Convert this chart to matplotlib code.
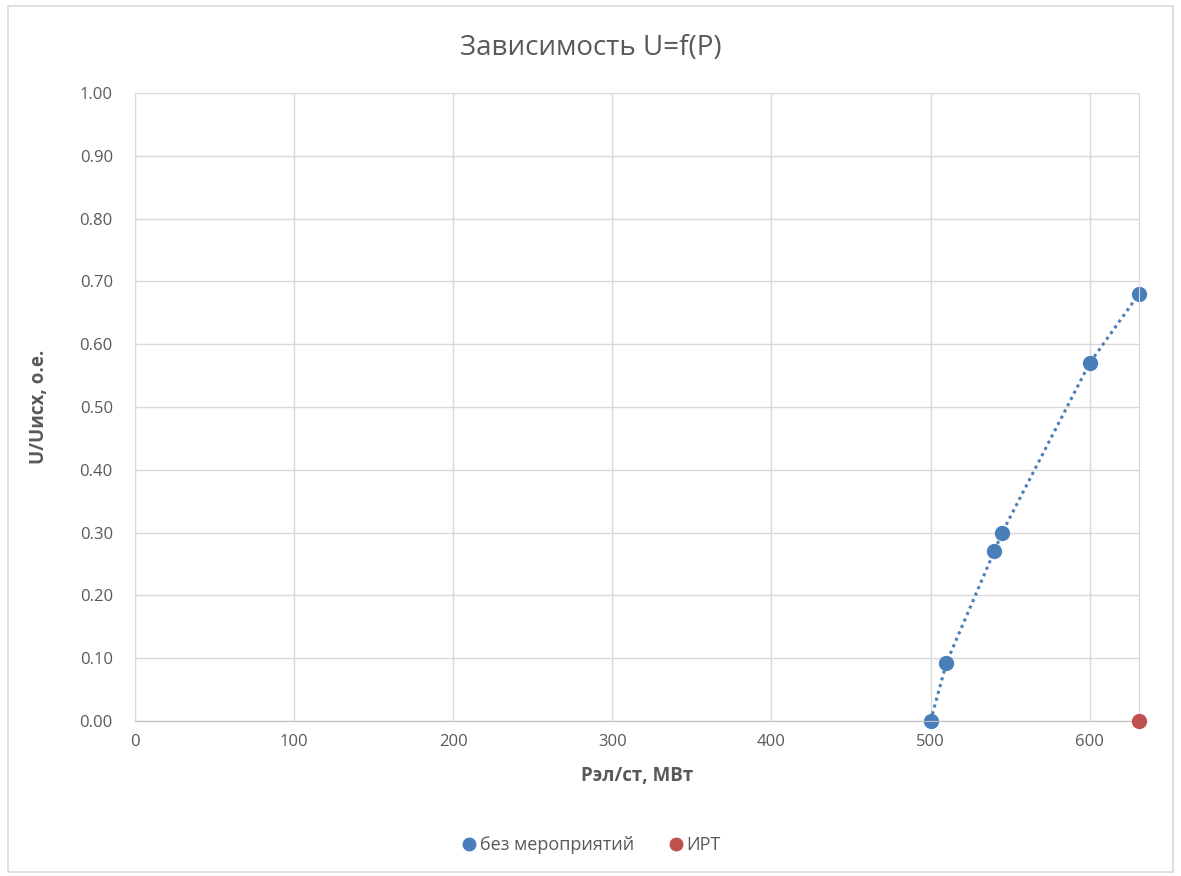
import matplotlib
matplotlib.use("Agg")
import matplotlib.pyplot as plt
from matplotlib.patches import Rectangle
from matplotlib.lines import Line2D

plt.rcParams['font.family'] = ['Open Sans', 'DejaVu Sans']

# data
p_base = [500, 510, 540, 545, 600, 631]
u_base = [0.0, 0.093, 0.27, 0.30, 0.57, 0.68]
p_irt = [631]
u_irt = [0.0]

xticks = [0, 100, 200, 300, 400, 500, 600]
yticks = [0.0, 0.1, 0.2, 0.3, 0.4, 0.5, 0.6, 0.7, 0.8, 0.9, 1.0]

blue = '#4a7ebb'
red = '#c0504d'
grey = '#595959'

fig = plt.figure(figsize=(11.81, 8.76), dpi=100)
fig.patches.append(Rectangle((0.007, 0.005), 0.986, 0.988, transform=fig.transFigure,
                             fill=False, edgecolor='#d9d9d9', linewidth=1.2))
ax = fig.add_axes([135/1181, 1-721/876, (1139-135)/1181, (721-93)/876])

ax.plot(p_base, u_base, linestyle=(0, (1, 1.3)), color=blue, linewidth=2.2,
        marker='o', markersize=10, clip_on=False)
ax.plot(p_irt, u_irt, linestyle='none', color=red, marker='o', markersize=10,
        clip_on=False, zorder=5)

ax.set_xlim(0, 631)
ax.set_ylim(0, 1.0)
ax.set_xticks(xticks)
ax.set_yticks(yticks)
ax.set_yticklabels(['%.2f' % v for v in yticks])
ax.grid(True, color='#d9d9d9', linewidth=1)
ax.set_axisbelow(True)
for s in ax.spines.values():
    s.set_color('#d9d9d9')
ax.spines['bottom'].set_color('#bfbfbf')
ax.tick_params(length=0, labelsize=12, labelcolor=grey)
ax.tick_params(axis='y', pad=16)
ax.tick_params(axis='x', pad=9)

ax.set_xlabel('Рэл/ст, МВт', fontsize=13.5, fontweight='bold', color=grey, labelpad=12)
ax.set_ylabel('U/Uисх, о.е.', fontsize=13.5, fontweight='bold', color=grey, labelpad=22)
fig.text(0.5, 1-48/876, 'Зависимость U=f(P)', ha='center', va='center', fontsize=20, color=grey)

handles = [Line2D([], [], linestyle='none', marker='o', markersize=9, color=blue),
           Line2D([], [], linestyle='none', marker='o', markersize=9, color=red)]
fig.legend(handles, ['без мероприятий', 'ИРТ'], loc='center',
           bbox_to_anchor=(0.5, 1-845/876), ncol=2, frameon=False,
           fontsize=13, labelcolor=grey, handletextpad=0.1, columnspacing=1.8,
           handlelength=1)

fig.savefig('out.png', dpi=100)
